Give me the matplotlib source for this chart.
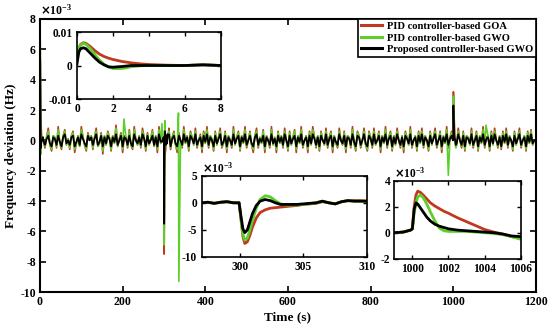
import numpy as np
import matplotlib
matplotlib.use("Agg")
import matplotlib.pyplot as plt

plt.rcParams['font.family'] = ['Liberation Serif', 'DejaVu Serif']
plt.rcParams['font.weight'] = 'bold'
plt.rcParams['axes.unicode_minus'] = False

# ---------------- data (units of 1e-3 Hz) ----------------
noise_step = 4.0  # s between noise samples
black_noise = [
    0.0, 0.0, 0.2, -0.3, 0.1, 0.3, -0.2, -0.4, 0.2, 0.1, -0.3, 0.3, -0.1, -0.4, 0.2, 0.4, -0.2, 0.0, -0.3, 0.2,
    0.3, -0.4, -0.1, 0.2, -0.3, 0.4, 0.1, -0.2, -0.4, 0.3, 0.0, 0.2, -0.3, 0.1, 0.4, -0.3, -0.1, 0.3, -0.4, 0.2,
    -0.2, 0.3, 0.1, -0.4, 0.2, -0.1, 0.4, -0.3, 0.0, 0.3, -0.4, 0.2, 0.1, -0.3, 0.3, -0.2, -0.4, 0.4, 0.0, -0.2,
    0.2, -0.3, 0.4, 0.1, -0.4, 0.3, -0.2, 0.0, 0.3, -0.3, 0.2, -0.4, 0.4, -0.1, 0.1, -0.3, 0.3, -0.2, 0.4, -0.4,
    0.1, 0.3, -0.2, -0.4, 0.3, 0.0, -0.3, 0.4, -0.1, 0.2, -0.4, 0.3, 0.1, -0.2, 0.4, -0.3, 0.0, 0.2, -0.4, 0.3,
    -0.1, 0.4, -0.3, 0.2, 0.0, -0.4, 0.3, -0.2, 0.1, 0.4, -0.3, -0.1, 0.3, -0.4, 0.2, 0.0, -0.3, 0.4, -0.2, 0.1,
    0.3, -0.4, 0.2, -0.1, 0.4, -0.3, 0.0, 0.3, -0.2, -0.4, 0.2, 0.4, -0.3, 0.1, -0.1, 0.3, -0.4, 0.2, 0.0, -0.3,
    0.4, -0.2, 0.1, -0.4, 0.3, -0.1, 0.2, -0.3, 0.4, 0.0, -0.4, 0.3, -0.2, 0.1, 0.3, -0.4, 0.2, -0.1, 0.4, -0.3,
    0.0, 0.2, -0.4, 0.3, -0.2, 0.4, 0.1, -0.3, 0.2, -0.4, 0.3, 0.0, -0.2, 0.4, -0.3, 0.1, 0.3, -0.4, 0.2, -0.1,
    -0.3, 0.4, 0.0, -0.2, 0.3, -0.4, 0.2, 0.1, -0.3, 0.4, -0.1, -0.4, 0.3, 0.2, -0.3, 0.0, 0.4, -0.2, -0.4, 0.3,
    0.1, -0.3, 0.4, -0.2, 0.0, 0.3, -0.4, 0.2, -0.1, 0.4, -0.3, 0.1, 0.3, -0.4, 0.2, -0.2, 0.4, 0.0, -0.3, 0.2,
    -0.4, 0.3, 0.1, -0.2, 0.4, -0.3, 0.0, 0.2, -0.4, 0.3, -0.1, 0.4, -0.3, 0.2, 0.0, -0.4, 0.3, -0.2, 0.1, 0.4,
    -0.3, 0.0, 0.3, -0.4, 0.2, -0.1, 0.4, -0.3, 0.1, 0.3, -0.4, 0.2, -0.2, 0.4, 0.0, -0.3, 0.3, -0.4, 0.2, 0.1,
    -0.2, 0.4, -0.3, 0.0, 0.3, -0.4, 0.2, -0.1, 0.4, -0.3, 0.1, 0.2, -0.4, 0.3, -0.2, 0.4, 0.0, -0.3, 0.2, -0.4,
    0.3, -0.1, 0.4, -0.3, 0.2, 0.0, -0.4, 0.3, -0.2, 0.1, 0.4, -0.3, 0.0, 0.2, -0.4, 0.3, -0.1, 0.4, -0.2, 0.0,
]
red_noise = [
    0.0, 0.0, 0.4, -0.5, 0.2, 0.8, -0.3, -0.7, 0.3, 0.2, -0.5, 0.9, -0.2, -0.6, 0.3, 0.7, -0.3, 0.1, -0.6, 0.3,
    0.6, -0.8, -0.2, 0.3, -0.4, 0.9, 0.2, -0.3, -0.7, 0.5, 0.0, 0.3, -0.6, 0.2, 0.8, -0.4, -0.2, 0.5, -0.9, 0.3,
    -0.3, 0.6, 0.2, -0.7, 0.3, -0.2, 1.0, -0.4, 0.1, 0.5, -0.8, 0.3, 0.2, -0.5, 0.7, -0.3, -0.6, 0.9, 0.0, -0.3,
    0.3, -0.5, 0.8, 0.2, -0.7, 0.5, -0.3, 0.1, 0.7, -0.4, 0.3, -0.8, 0.9, -0.2, 0.2, -0.5, 0.6, -0.3, 0.8, -0.6,
    0.2, 0.6, -0.3, -0.8, 0.5, 0.0, -0.5, 0.9, -0.2, 0.3, -0.7, 0.6, 0.2, -0.3, 0.8, -0.5, 0.0, 0.4, -0.8, 0.6,
    -0.2, 0.9, -0.5, 0.3, 0.1, -0.7, 0.6, -0.3, 0.2, 0.8, -0.5, -0.2, 0.6, -0.8, 0.3, 0.0, -0.5, 0.9, -0.3, 0.2,
    0.6, -0.7, 0.3, -0.2, 0.9, -0.5, 0.0, 0.6, -0.3, -0.8, 0.3, 0.8, -0.5, 0.2, -0.2, 0.7, -0.8, 0.3, 0.0, -0.5,
    0.9, -0.3, 0.2, -0.8, 0.6, -0.2, 0.3, -0.5, 0.8, 0.0, -0.7, 0.6, -0.3, 0.2, 0.7, -0.8, 0.3, -0.2, 0.9, -0.5,
    0.0, 0.3, -0.8, 0.6, -0.3, 0.9, 0.2, -0.5, 0.3, -0.7, 0.6, 0.0, -0.3, 0.8, -0.5, 0.2, 0.6, -0.8, 0.3, -0.2,
    -0.5, 0.8, 0.0, -0.3, 0.6, -0.8, 0.3, 0.2, -0.5, 0.9, -0.2, -0.7, 0.6, 0.3, -0.5, 0.0, 0.8, -0.3, -0.7, 0.6,
    0.2, -0.5, 0.8, -0.3, 0.0, 0.6, -0.8, 0.3, -0.2, 0.9, -0.5, 0.2, 0.6, -0.7, 0.3, -0.3, 0.8, 0.0, -0.5, 0.3,
    -0.8, 0.6, 0.2, -0.3, 0.9, -0.5, 0.0, 0.3, -0.7, 0.6, -0.2, 0.8, -0.5, 0.3, 0.0, -0.7, 0.6, -0.3, 0.2, 0.8,
    -0.5, 0.0, 0.6, -0.8, 0.3, -0.2, 0.9, -0.5, 0.2, 0.6, -0.7, 0.3, -0.3, 0.8, 0.0, -0.5, 0.6, -0.7, 0.3, 0.2,
    -0.3, 0.8, -0.5, 0.0, 0.6, -0.7, 0.3, -0.2, 0.9, -0.5, 0.2, 0.3, -0.7, 0.6, -0.3, 0.8, 0.0, -0.5, 0.3, -0.6,
    0.6, -0.2, 0.8, -0.5, 0.3, 0.0, -0.7, 0.6, -0.3, 0.2, 0.8, -0.5, 0.0, 0.3, -0.7, 0.6, -0.2, 0.7, -0.3, 0.0,
]
green_noise = [
    0.0, 0.0, 0.3, -0.4, 0.2, 0.6, -0.3, -0.6, 0.3, 0.2, -0.4, 0.7, -0.2, -0.5, 0.3, 0.6, -0.3, 0.1, -0.5, 0.3,
    0.5, -0.6, -0.2, 0.3, -0.4, 0.7, 0.2, -0.3, -0.6, 0.4, 0.0, 0.3, -0.5, 0.2, 0.6, -0.4, -0.2, 0.4, -0.7, 0.3,
    -0.3, 0.5, 0.2, -0.6, 0.3, -0.2, 0.8, -0.4, 0.1, 0.4, -0.6, 0.3, 0.2, -0.4, 0.6, -0.3, -0.5, 0.7, 0.0, -0.3,
    0.3, -0.4, 0.6, 0.2, -0.6, 0.4, -0.3, 0.1, 0.6, -0.4, 0.3, -0.6, 0.7, -0.2, 0.2, -0.4, 0.5, -0.3, 0.6, -0.5,
    0.2, 0.5, -0.3, -0.6, 0.4, 0.0, -0.4, 0.7, -0.2, 0.3, -0.6, 0.5, 0.2, -0.3, 0.6, -0.4, 0.0, 0.3, -0.6, 0.5,
    -0.2, 0.7, -0.4, 0.3, 0.1, -0.6, 0.5, -0.3, 0.2, 0.6, -0.4, -0.2, 0.5, -0.6, 0.3, 0.0, -0.4, 0.7, -0.3, 0.2,
    0.5, -0.6, 0.3, -0.2, 0.7, -0.4, 0.0, 0.5, -0.3, -0.6, 0.3, 0.6, -0.4, 0.2, -0.2, 0.6, -0.6, 0.3, 0.0, -0.4,
    0.7, -0.3, 0.2, -0.6, 0.5, -0.2, 0.3, -0.4, 0.6, 0.0, -0.6, 0.5, -0.3, 0.2, 0.6, -0.6, 0.3, -0.2, 0.7, -0.4,
    0.0, 0.3, -0.6, 0.5, -0.3, 0.7, 0.2, -0.4, 0.3, -0.6, 0.5, 0.0, -0.3, 0.6, -0.4, 0.2, 0.5, -0.6, 0.3, -0.2,
    -0.4, 0.6, 0.0, -0.3, 0.5, -0.6, 0.3, 0.2, -0.4, 0.7, -0.2, -0.6, 0.5, 0.3, -0.4, 0.0, 0.6, -0.3, -0.6, 0.5,
    0.2, -0.4, 0.6, -0.3, 0.0, 0.5, -0.6, 0.3, -0.2, 0.7, -0.4, 0.2, 0.5, -0.6, 0.3, -0.3, 0.6, 0.0, -0.4, 0.3,
    -0.6, 0.5, 0.2, -0.3, 0.7, -0.4, 0.0, 0.3, -0.6, 0.5, -0.2, 0.6, -0.4, 0.3, 0.0, -0.6, 0.5, -0.3, 0.2, 0.6,
    -0.4, 0.0, 0.5, -0.6, 0.3, -0.2, 0.7, -0.4, 0.2, 0.5, -0.6, 0.3, -0.3, 0.6, 0.0, -0.4, 0.5, -0.6, 0.3, 0.2,
    -0.3, 0.6, -0.4, 0.0, 0.5, -0.6, 0.3, -0.2, 0.7, -0.4, 0.2, 0.3, -0.6, 0.5, -0.3, 0.6, 0.0, -0.4, 0.3, -0.5,
    0.5, -0.2, 0.6, -0.4, 0.3, 0.0, -0.6, 0.5, -0.3, 0.2, 0.6, -0.4, 0.0, 0.3, -0.6, 0.5, -0.2, 0.6, -0.3, 0.0,
]
# isolated spikes of the GWO-PID response
green_event_t = [203, 295, 335, 336, 988, 1079]
green_event_v = [1.4, 1.1, 1.8, -9.3, -2.3, 1.0]

# zoomed segments (also part of the main traces)
t_seg1 = [0, 0.1, 0.2, 0.35, 0.5, 0.75, 1.0, 1.25, 1.5, 1.75, 2.0, 2.5, 3.0, 3.5, 4.0, 5.0, 6.0, 7.0, 8.0]
red_seg1 = [2.0, 5.0, 6.3, 6.8, 6.6, 5.6, 4.4, 3.4, 2.7, 2.2, 1.8, 1.2, 0.8, 0.5, 0.3, 0.1, 0.0, 0.2, 0.0]
green_seg1 = [1.5, 5.0, 6.2, 6.6, 6.3, 5.0, 3.2, 1.6, 0.4, -0.4, -0.9, -0.9, -0.4, -0.1, 0.0, 0.0, 0.0, 0.2, 0.0]
black_seg1 = [0.5, 4.0, 5.0, 5.3, 5.0, 3.6, 2.2, 1.0, 0.2, -0.4, -0.5, -0.3, 0.0, 0.0, 0.0, 0.0, 0.0, 0.2, 0.0]

t_seg2 = [297, 297.5, 298, 298.5, 299, 299.5, 299.95, 300.1, 300.25, 300.4, 300.6, 300.8, 301, 301.3, 301.6,
          302, 302.4, 302.8, 303.2, 303.6, 304, 304.5, 305, 305.5, 306, 306.5, 307, 307.5, 308, 308.5, 309,
          309.5, 310]
black_seg2 = [0.0, 0.1, -0.1, 0.1, 0.2, 0.0, 0.0, -2.5, -4.8, -5.5, -5.0, -3.5, -2.0, -0.5, 0.3, 0.6, 0.4, 0.0,
              -0.3, -0.3, -0.3, -0.3, -0.2, -0.1, 0.0, 0.3, 0.0, -0.2, 0.2, 0.4, 0.3, 0.3, 0.3]
green_seg2 = [0.0, 0.1, -0.1, 0.1, 0.2, 0.0, 0.0, -3.0, -5.8, -6.9, -6.5, -5.0, -3.2, -1.0, 0.6, 1.3, 1.1, 0.4,
              -0.2, -0.4, -0.4, -0.4, -0.3, -0.2, 0.0, 0.3, 0.0, -0.2, 0.2, 0.4, 0.3, 0.3, 0.3]
red_seg2 = [0.0, 0.1, -0.1, 0.1, 0.2, 0.0, 0.0, -3.0, -6.2, -7.5, -7.2, -6.0, -4.5, -2.8, -1.8, -1.3, -1.0, -0.9,
            -0.8, -0.7, -0.6, -0.5, -0.3, -0.2, -0.1, 0.2, 0.0, -0.2, 0.2, 0.4, 0.4, 0.4, 0.3]

t_seg3 = [999, 999.5, 999.9, 1000.0, 1000.1, 1000.2, 1000.3, 1000.45, 1000.6, 1000.8, 1001, 1001.25, 1001.5,
          1001.75, 1002, 1002.5, 1003, 1003.5, 1004, 1004.5, 1005, 1005.5, 1006]
black_seg3 = [0.0, 0.05, 0.2, 0.3, 1.8, 2.3, 2.2, 1.9, 1.6, 1.2, 0.9, 0.65, 0.5, 0.4, 0.3, 0.2, 0.15, 0.1, 0.05,
              0.0, -0.1, -0.25, -0.3]
green_seg3 = [0.0, 0.05, 0.2, 0.3, 1.5, 2.3, 2.75, 2.9, 2.7, 2.2, 1.6, 0.9, 0.35, 0.15, 0.1, 0.1, 0.1, 0.05, 0.0,
              -0.05, -0.15, -0.3, -0.5]
red_seg3 = [0.0, 0.05, 0.2, 0.3, 2.0, 2.9, 3.2, 3.1, 2.9, 2.6, 2.3, 2.05, 1.85, 1.65, 1.5, 1.15, 0.85, 0.55,
            0.25, 0.05, -0.1, -0.3, -0.45]

labels = ['PID controller-based GOA', 'PID controller-based GWO', 'Proposed controller-based GWO']
RED = '#C0391E'
GREEN = '#5CCF2A'
BLACK = '#000000'


def build(noise, segs, ev_t=(), ev_v=()):
    t_n = np.arange(len(noise)) * noise_step
    v_n = np.array(noise, dtype=float)
    keep = np.ones(len(t_n), bool)
    for ts, _ in segs:
        keep &= ~((t_n >= ts[0] - 1) & (t_n <= ts[-1] + 1))
    for te in ev_t:
        keep &= ~(np.abs(t_n - te) < 1.5)
    t_all = list(t_n[keep])
    v_all = list(v_n[keep])
    for ts, vs in segs:
        t_all += list(ts)
        v_all += list(vs)
    t_all += list(ev_t)
    v_all += list(ev_v)
    order = np.argsort(t_all)
    return np.array(t_all)[order], np.array(v_all)[order]


red_t, red_v = build(red_noise, [(t_seg1, red_seg1), (t_seg2, red_seg2), (t_seg3, red_seg3)])
green_t, green_v = build(green_noise, [(t_seg1, green_seg1), (t_seg2, green_seg2), (t_seg3, green_seg3)],
                         green_event_t, green_event_v)
black_t, black_v = build(black_noise, [(t_seg1, black_seg1), (t_seg2, black_seg2), (t_seg3, black_seg3)])

# ---------------- figure ----------------
fig = plt.figure(figsize=(5.5, 3.31), dpi=100)
ax = fig.add_axes([0.0727, 0.1178, 0.9018, 0.8248])

ax.plot(red_t, red_v, color=RED, lw=1.2, label=labels[0])
ax.plot(green_t, green_v, color=GREEN, lw=1.2, label=labels[1])
ax.plot(black_t, black_v, color=BLACK, lw=1.3, label=labels[2])
ax.set_xlim(0, 1200)
ax.set_ylim(-10, 8)
ax.set_xticks(np.arange(0, 1201, 200))
ax.set_yticks(np.arange(-10, 9, 2))
ax.tick_params(direction='in', top=True, right=True, length=4, width=1.2, labelsize=8.5, pad=3)
for s in ax.spines.values():
    s.set_linewidth(1.5)
ax.set_xlabel('Time (s)', fontsize=9.5, fontweight='bold', labelpad=2)
ax.set_ylabel('Frequency deviation (Hz)', fontsize=9.5, fontweight='bold', labelpad=2)
ax.text(0.0, 1.005, r'$\times\mathregular{10^{-3}}$', transform=ax.transAxes, fontsize=8.5,
        ha='left', va='bottom')
leg = ax.legend(loc='upper right', borderaxespad=0, fontsize=7.6, frameon=True, fancybox=False,
                framealpha=1, edgecolor='black', handlelength=2.0, labelspacing=0.2,
                borderpad=0.25, handletextpad=0.5)
leg.get_frame().set_linewidth(1.2)
for h in leg.get_lines():
    h.set_linewidth(2.2)


def style_inset(a):
    a.tick_params(direction='in', top=True, right=True, length=3, width=1.0, labelsize=8.3, pad=3)
    for s in a.spines.values():
        s.set_linewidth(1.2)


# inset 1: 0-8 s
a1 = fig.add_axes([0.14, 0.7009, 0.2618, 0.2024])
a1.plot(t_seg1, np.array(red_seg1) * 1e-3, color=RED, lw=2.0)
a1.plot(t_seg1, np.array(green_seg1) * 1e-3, color=GREEN, lw=2.0)
a1.plot(t_seg1, np.array(black_seg1) * 1e-3, color=BLACK, lw=2.0)
a1.set_xlim(0, 8)
a1.set_ylim(-0.01, 0.01)
a1.set_xticks([0, 2, 4, 6, 8])
a1.set_yticks([-0.01, 0, 0.01])
a1.set_yticklabels(['-0.01', '0', '0.01'])
style_inset(a1)

# inset 2: 297-310 s
a2 = fig.add_axes([0.3664, 0.2236, 0.3009, 0.2456])
a2.plot(t_seg2, red_seg2, color=RED, lw=2.0)
a2.plot(t_seg2, green_seg2, color=GREEN, lw=2.0)
a2.plot(t_seg2, black_seg2, color=BLACK, lw=2.0)
a2.set_xlim(297, 310)
a2.set_ylim(-10, 5)
a2.set_xticks([300, 305, 310])
a2.set_yticks([-10, -5, 0, 5])
style_inset(a2)
a2.text(0.0, 1.0, r'$\times\mathregular{10^{-3}}$', transform=a2.transAxes, fontsize=8.3,
        ha='left', va='bottom')

# inset 3: 999-1006 s
a3 = fig.add_axes([0.7169, 0.2184, 0.2298, 0.2356])
a3.plot(t_seg3, red_seg3, color=RED, lw=2.0)
a3.plot(t_seg3, green_seg3, color=GREEN, lw=2.0)
a3.plot(t_seg3, black_seg3, color=BLACK, lw=2.0)
a3.set_xlim(999, 1006)
a3.set_ylim(-2, 4)
a3.set_xticks([1000, 1002, 1004, 1006])
a3.set_yticks([-2, 0, 2, 4])
style_inset(a3)
a3.text(0.0, 1.0, r'$\times\mathregular{10^{-3}}$', transform=a3.transAxes, fontsize=8.3,
        ha='left', va='bottom')

fig.savefig('out.png', dpi=100)
